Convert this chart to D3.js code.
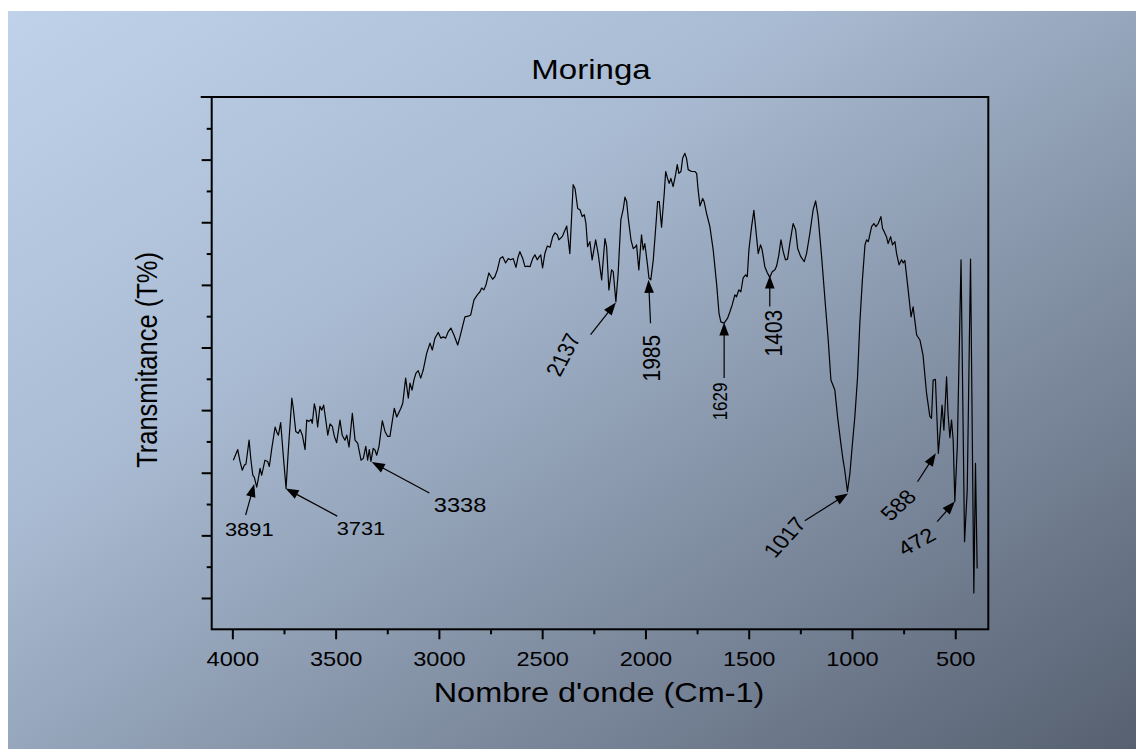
<!DOCTYPE html>
<html><head><meta charset="utf-8">
<script src="https://cdn.jsdelivr.net/npm/d3@7"></script>
<style>html,body{margin:0;padding:0;background:#fff;} svg{display:block}</style>
</head><body>
<svg id="chart" width="1136" height="749"></svg>
<script>
// ---- DATA ----
const wavenumber = [3995,3974,3963,3952,3942,3934,3919,3910,3901,3894,3882,3874,3866,3858,3842,3829,3821,3809,3793,3784,
3777,3766,3753,3740,3729,3712,3705,3693,3681,3672,3661,3648,3640,3629,3619,3613,3603,3596,3587,3576,
3567,3558,3548,3538,3527,3516,3506,3495,3479,3468,3455,3446,3435,3419,3406,3393,3377,3366,3354,3345,
3337,3329,3318,3309,3301,3290,3274,3261,3248,3237,3216,3204,3184,3175,3161,3148,3140,3130,3121,3111,
3100,3088,3076,3059,3043,3032,3019,3003,2991,2979,2967,2955,2942,2927,2909,2898,2874,2858,2846,2830,
2814,2801,2793,2782,2772,2758,2740,2729,2717,2704,2691,2677,2664,2653,2640,2627,2616,2608,2594,2583,
2570,2559,2546,2535,2524,2514,2507,2498,2487,2475,2462,2449,2438,2427,2419,2403,2381,2366,2350,2341,
2328,2317,2306,2296,2288,2280,2269,2258,2241,2229,2212,2196,2188,2177,2164,2156,2143,2132,2119,2108,
2099,2091,2083,2070,2059,2048,2043,2032,2019,2011,2003,1990,1983,1974,1962,1951,1941,1933,1922,1909,
1902,1893,1885,1877,1866,1854,1846,1838,1828,1820,1809,1801,1793,1777,1761,1752,1745,1736,1723,1716,
1704,1688,1672,1655,1644,1635,1619,1602,1591,1580,1567,1559,1548,1538,1527,1515,1507,1499,1486,1475,
1467,1454,1443,1435,1422,1411,1398,1386,1373,1365,1354,1344,1333,1322,1312,1301,1285,1273,1263,1248,
1231,1220,1204,1188,1176,1164,1147,1128,1115,1102,1083,1070,1054,1043,1035,1022,1010,999,986,973,
962,950,937,929,921,905,894,884,873,860,852,844,833,825,813,804,792,784,772,760,
752,744,728,714,704,696,687,671,656,639,623,615,607,596,582,571,564,555,542,535,
526,518,510,502,490,472,455,442,426,410,402,394];
const transmittance = [22.0,23.7,21.8,20.4,21.2,21.4,25.2,22.0,19.6,19.3,17.7,19.1,20.7,19.6,22.0,21.8,21.0,23.9,27.3,26.4,
26.0,28.0,22.6,17.5,23.6,31.9,30.3,26.6,26.3,26.9,26.0,23.7,28.4,28.2,28.5,27.9,31.0,30.0,27.3,30.6,
30.0,30.8,28.5,26.0,27.8,27.4,25.8,24.8,28.4,26.0,25.2,26.0,24.1,29.5,25.2,24.7,22.0,22.3,24.2,22.0,
23.7,21.8,23.9,23.6,22.8,24.2,28.3,26.6,25.8,25.8,30.3,28.9,30.3,31.1,35.1,31.9,34.3,33.2,34.8,35.9,
36.3,35.1,36.4,39.1,40.7,39.6,41.5,42.4,41.5,41.7,41.5,42.5,43.1,42.0,40.4,41.7,44.9,45.0,45.2,47.6,
48.4,48.9,49.5,49.2,50.0,51.9,50.9,51.3,52.4,54.2,54.5,53.5,54.2,54.0,54.2,52.8,54.5,55.3,54.2,52.9,
53.0,52.9,54.2,54.8,54.0,54.5,54.8,52.7,55.0,56.2,56.0,57.7,58.3,58.0,57.2,57.7,59.4,55.0,66.0,65.4,
62.2,62.0,60.9,61.2,59.8,56.1,56.9,54.0,57.2,55.0,50.8,57.4,56.1,49.2,52.4,52.1,47.3,51.9,60.4,62.0,
64.0,63.3,60.6,57.2,55.8,56.1,56.4,52.4,58.0,55.6,56.6,53.2,51.1,50.8,54.0,58.8,63.3,63.3,59.2,64.6,
68.1,67.0,66.2,67.0,65.7,67.6,69.2,67.8,68.1,70.2,71.0,70.2,68.4,68.1,68.1,67.8,65.2,62.6,63.8,63.3,
61.4,59.3,55.6,50.0,45.5,44.1,43.9,44.7,45.7,46.8,48.4,48.1,49.2,48.9,51.1,51.6,51.3,55.6,59.3,61.9,
59.3,55.0,56.4,55.6,52.9,52.0,51.2,52.1,52.4,53.0,54.8,57.2,55.3,54.0,54.1,56.6,59.8,58.8,55.8,54.5,
53.7,55.0,58.2,62.0,63.4,60.9,54.5,46.5,41.2,34.8,33.2,29.0,24.7,22.0,20.4,17.0,19.9,24.2,29.0,35.3,
43.9,50.6,56.4,57.2,56.9,59.3,59.8,59.3,59.8,60.9,59.0,58.5,57.7,56.6,57.7,56.4,56.9,55.0,53.2,54.0,
53.5,53.9,49.2,44.9,46.5,44.4,42.0,41.2,38.8,32.7,29.0,28.7,34.8,34.9,23.1,27.4,30.8,26.8,35.3,29.5,
25.6,28.4,25.2,15.4,24.2,54.0,9.0,17.2,54.1,0.8,21.5,4.7];

const xMajorTicks = [4000,3500,3000,2500,2000,1500,1000,500];
const xMinorTicks = [3750,3250,2750,2250,1750,1250,750];
const yMajorTicks = [0,10,20,30,40,50,60,70];
const yMinorTicks = [5,15,25,35,45,55,65,75];

const peakLabels = ["3891","3731","3338","2137","1985","1629","1403","1017","588","472"];
const peakWavenumber = [3894,3742,3325,2143,1985,1619,1398,1019,594,502];
const peakTransmittance = [18.2,17.5,21.7,47.2,50.8,44.0,51.5,16.7,23.1,15.4];

const titleText = "Moringa";
const xTitle = "Nombre d'onde (Cm-1)";
const yTitle = "Transmitance (T%)";

// ---- LAYOUT ----
const SX = 1.18; // horizontal text stretch seen in the reference
// arrow tail offset (tdx,tdy), label centre offset (ldx,ldy), angle, font size
const annotLayout = [
  {tdx:-8.6, tdy:31,  ldx:-5,    ldy:46,   a:0,   fs:18.5},
  {tdx:51.6, tdy:27.7,ldx:75.3,  ldy:40.4, a:0,   fs:18.5},
  {tdx:57.6, tdy:31,  ldx:88.3,  ldy:43.2, a:0,   fs:20},
  {tdx:-25.3,tdy:32.3,ldx:-52.7, ldy:52.3, a:-66, fs:20},
  {tdx:2,    tdy:43.3,ldx:3,     ldy:78.3, a:-90, fs:21},
  {tdx:0,    tdy:55.6,ldx:-4.3,  ldy:79,   a:-90, fs:17},
  {tdx:0,    tdy:31,  ldx:3.3,   ldy:57.6, a:-90, fs:21},
  {tdx:-43.3,tdy:27.4,ldx:-63.3, ldy:43.7, a:-52, fs:20},
  {tdx:-18.3,tdy:28.4,ldx:-37.7, ldy:51.7, a:-47, fs:20},
  {tdx:-17.7,tdy:20,  ldx:-38.3, ldy:40,   a:-33, fs:20}
];

const W = 1136, H = 749;
const plot = {left:211.7, right:988.3, top:97, bottom:629.3};
const FONT = "'Liberation Sans', Arial, Helvetica, sans-serif";

const svg = d3.select("#chart");

// background gradient
const defs = svg.append("defs");
const grad = defs.append("linearGradient").attr("id","bg")
  .attr("x1","0").attr("y1","0").attr("x2","1").attr("y2","1");
grad.append("stop").attr("offset","0").attr("stop-color","#bfd2ea");
grad.append("stop").attr("offset","0.35").attr("stop-color","#a9bbd2");
grad.append("stop").attr("offset","0.7").attr("stop-color","#7d8a9e");
grad.append("stop").attr("offset","1").attr("stop-color","#566070");
svg.append("rect").attr("x",0).attr("y",0).attr("width",W).attr("height",H).attr("fill","#ffffff");
svg.append("rect").attr("x",8).attr("y",11).attr("width",W-8).attr("height",H-11).attr("fill","url(#bg)");

const x = d3.scaleLinear().domain([4100, 340]).range([plot.left, plot.right]);
const y = d3.scaleLinear().domain([-5, 80]).range([plot.bottom, plot.top]);

// spectrum
const pts = wavenumber.map((w,i)=>[w, transmittance[i]]);
const line = d3.line().x(d=>x(d[0])).y(d=>y(d[1]));
svg.append("path").datum(pts).attr("d", line)
  .attr("fill","none").attr("stroke","#000").attr("stroke-width",1.2).attr("stroke-linejoin","round");

// axes
const gx = svg.append("g").attr("transform",`translate(0,${plot.bottom})`);
gx.call(d3.axisBottom(x).tickValues(xMajorTicks).tickSize(10).tickSizeOuter(0).tickPadding(6).tickFormat(d3.format("d")));
gx.append("g").call(d3.axisBottom(x).tickValues(xMinorTicks).tickSize(5).tickSizeOuter(0).tickFormat(""));
gx.selectAll("path.domain").remove();
gx.selectAll("line").attr("stroke","#000").attr("stroke-width",2);
gx.selectAll("text").attr("fill","#000").style("font-family",FONT).style("font-size","20px")
  .attr("y",null).attr("dy",null)
  .attr("transform","translate(0,37) scale(" + SX + ",1)");

const gy = svg.append("g").attr("transform",`translate(${plot.left},0)`);
gy.call(d3.axisLeft(y).tickValues(yMajorTicks).tickSize(10).tickSizeOuter(0).tickFormat(""));
gy.append("g").call(d3.axisLeft(y).tickValues(yMinorTicks).tickSize(5).tickSizeOuter(0).tickFormat(""));
gy.selectAll("path.domain").remove();
gy.selectAll("line").attr("stroke","#000").attr("stroke-width",2);

// frame
svg.append("rect").attr("x",plot.left).attr("y",plot.top)
  .attr("width",plot.right-plot.left).attr("height",plot.bottom-plot.top)
  .attr("fill","none").attr("stroke","#000").attr("stroke-width",2);
svg.append("line").attr("x1",plot.left-11).attr("x2",plot.left).attr("y1",plot.top).attr("y2",plot.top)
  .attr("stroke","#000").attr("stroke-width",2);

// titles
svg.append("text").attr("transform",`translate(591,79) scale(${SX},1)`)
  .attr("text-anchor","middle").style("font-family",FONT).style("font-size","28px").text(titleText);
svg.append("text").attr("transform",`translate(599,702) scale(${SX},1)`)
  .attr("text-anchor","middle").style("font-family",FONT).style("font-size","27.5px").text(xTitle);
svg.append("text").attr("transform",`translate(157,360) scale(${SX},1) rotate(-90)`)
  .attr("text-anchor","middle").style("font-family",FONT).style("font-size","25.5px").text(yTitle);

// annotations
const ann = svg.append("g");
peakLabels.forEach((lab,i)=>{
  const L = annotLayout[i];
  const tx = x(peakWavenumber[i]), ty = y(peakTransmittance[i]);
  const sx = tx + L.tdx, sy = ty + L.tdy;
  const len = Math.hypot(tx-sx, ty-sy);
  const ux = (tx-sx)/len, uy = (ty-sy)/len;
  const hl = 13, hw = 4.8;
  const bx = tx - ux*hl, by = ty - uy*hl;
  ann.append("line").attr("x1",sx).attr("y1",sy).attr("x2",bx+ux*2).attr("y2",by+uy*2)
    .attr("stroke","#000").attr("stroke-width",1.2);
  ann.append("polygon")
    .attr("points",[[tx,ty],[bx - uy*hw, by + ux*hw],[bx + uy*hw, by - ux*hw]].map(p=>p.join(",")).join(" "))
    .attr("fill","#000");
  ann.append("text")
    .attr("transform",`translate(${tx+L.ldx},${ty+L.ldy}) scale(${SX},1) rotate(${L.a})`)
    .attr("text-anchor","middle").attr("dy","0.35em")
    .style("font-family",FONT).style("font-size",L.fs+"px").text(lab);
});
</script>
</body></html>
